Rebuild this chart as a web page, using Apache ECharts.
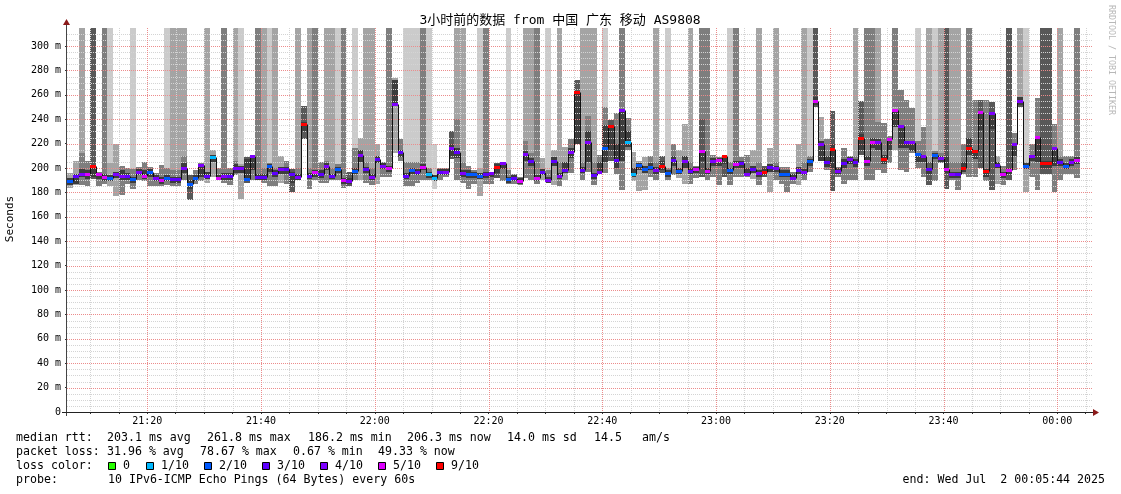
<!DOCTYPE html>
<html><head><meta charset="utf-8">
<script src="https://cdn.jsdelivr.net/npm/echarts@6/dist/echarts.min.js"></script>
<style>html,body{margin:0;padding:0;background:#fff}#c{width:1121px;height:494px}</style>
</head><body><div id="c"></div>
<script>
// ---- data (ms); column i covers minute (firstMinute+i .. +1) after 21:00 ----
const firstMinute = 6;
const medianRtt = [
189,193,195,195,201.5,194.3,192.4,191.8,194.5,193,
193,190.7,196.7,193.4,196,191.8,189.6,191.3,190.4,190.4,
199.7,186.2,191,202,193,209,191.5,193,193,199.5,
199.2,190.2,209.3,192,192,201.6,195.4,198.4,198.4,195,
192.3,235.5,193.4,196,194.8,201.4,192.9,198.6,189.6,189,
197.5,210.6,198.9,192,207,201.1,199.5,251.9,212.6,193.4,
197.8,196.4,200.3,194.3,191.5,196.2,196.7,216.2,213.1,195.1,
194.8,194.8,193.4,194.3,195.6,200.3,203.8,190.4,191.8,189.3,
211,205.5,191.5,196.2,189.9,205.7,193.2,198,212.8,261.8,
198.1,220.5,193.7,196.7,216,233.9,206.3,247.3,220.5,195,
202,198.6,200.3,198.1,201.4,195.1,206,197,205,197.5,
198.4,213.7,197,205.5,205.8,209.3,197.8,202.7,203.3,194.5,
198.4,195.1,196.4,200.3,199.7,195,195,191.8,198,196.7,
205,254.4,219.1,204.6,214.8,197.5,203.8,207.1,204.4,224,
205.5,221.3,221.3,206.6,223,247.5,234,221,221,211.2,
209.3,198.4,210.6,207.9,198.9,194.3,194.3,199.2,216,213.7,
245.9,197,244.8,202.2,194.8,197.8,219,254.4,201.6,209.3,
224.9,203.3,203.3,215.8,204.6,201.6,204.6,206.3];
const lossCount = [
2,3,4,5,9,5,5,2,4,4, 3,2,4,5,2,4,5,2,3,3, 4,2,2,4,3,1,5,4,3,4,
4,2,4,3,3,2,3,4,3,3, 4,9,3,5,3,4,3,2,5,4, 2,4,3,4,3,4,5,4,3,3,
2,3,5,1,1,3,4,4,3,4, 2,2,2,3,4,9,4,2,3,5, 4,3,5,3,4,3,4,3,4,9,
3,4,3,4,2,9,3,4,1,1, 2,2,2,4,9,2,3,2,4,3, 5,5,5,4,5,9,2,5,3,4,
3,4,9,3,4,2,2,4,3,4, 2,5,4,3,9,4,3,4,3,9, 5,5,4,9,5,5,4,3,4,2,
4,3,2,4,5,4,3,9,9,9, 5,9,4,3,5,5,4,4,2,4, 5,9,9,4,3,2,4,5];
const smokeLow = [
184,186,186,185,191,185,187,185,177,178, 187,183,190,189,185,185,185,186,185,185,
190,174,187,189,188,193,190,188,186,194, 175,188,190,190,188,185,185,188,187,180,
190,224,183,190,188,188,190,190,184,185, 190,190,188,186,187,193,193,212,206,185,
185,188,190,190,183,190,193,207,190,188, 183,187,177,187,187,192,189,187,187,186,
192,190,187,190,188,186,185,190,196,220, 190,197,186,195,196,206,195,182,215,189,
181,182,193,190,196,190,194,192,187,187, 192,193,190,193,186,193,186,193,193,193,
191,186,193,180,190,187,180,187,186,190, 197,250,206,198,181.5,193,187,190,190,211,
190,190,198,196,204,215,198,197,212,200, 193,186,189,204,183,190,182,195,193,193,
200,189,182,187,186,190,198,250,180,193, 182,195,195,180,190,195,195,192];
const smokeHigh = [
196,206,212,206,203,197,209,204,220,201.6, 200,199,201,205,200.5,196,202.5,200,198,198,
210,194,198,204,219,215,200,200,200,206, 203,209,211,200,200,204,200,210,206,199,
200,251,200,200,205,206,200,203,196,197, 216,225,205,200,220,205,215,274,224,205,
205,205,205,200,220,200,200,230,240,205, 202,198,200,206,197,204,205,198,195,193,
222,212,200,208,198,215,205,217,224,272, 205,243,205,211,250,239,245,250,241,213,
206,209,210,205,210,200,220,215,236,205, 202,240,205,211,209,211,205,228,209,211,
215,205,202,216,205,201,201,197,220,205, 210,258,241.5,224,247,201,216,210,210,255,
215,230,238,237,226,250,264,256,249,222, 234,205,214,212,242,205,205,220,225,256,
256,256,254,210,202,205,229,258,205,220, 257,215,215,236,210,210,210,212];
// grey level of the part that runs to the top (0 = none)
const tallShade = [
0,0,2,0,4,0,3,1,0,0, 0,1,0,0,0,0,0,1,2,2, 2,0,0,0,2,0,0,3,0,2,
1,0,0,3,2,1,2,0,0,0, 2,0,2,3,0,2,2,1,3,0, 1,0,2,2,0,0,3,0,0,1,
1,1,3,1,0,0,0,0,2,2, 0,0,1,3,0,0,0,1,0,0, 2,2,3,0,1,0,2,0,0,0,
2,2,2,0,1,0,0,3,0,0, 0,0,0,2,0,1,0,0,0,2, 0,3,3,0,0,0,1,3,0,0,
0,2,0,0,2,0,0,0,0,2, 1,4,0,0,0,0,0,0,2,0, 3,3,2,0,0,3,0,0,0,1,
0,2,1,2,4,2,2,0,3,0, 0,0,0,0,0,4,0,2,1,0, 0,4,4,0,2,0,0,3];
const clusterShade = [
2,2,3,3,4,3,3,2,2,3, 3,3,3,3,3,3,3,3,3,3, 3,4,3,3,2,2,3,3,3,3,
2,4,3,3,3,3,3,2,3,4, 3,4,3,3,3,3,3,3,3,4, 3,2,3,3,2,3,3,2,3,3,
3,3,3,3,1,3,3,4,3,3, 3,3,2,3,3,4,3,3,3,3, 3,3,3,2,3,2,3,2,3,4,
3,3,3,3,3,4,3,3,3,2, 2,2,3,3,4,3,3,2,2,3, 3,4,3,3,3,4,3,3,3,3,
2,3,4,2,3,3,3,3,2,3, 3,4,2,3,4,3,3,3,3,4, 3,3,3,3,3,2,3,3,3,3,
3,4,3,3,4,3,3,3,3,3, 4,3,4,2,3,4,3,4,2,3, 3,4,4,3,3,3,3,3];
const coreLow = [
186,187,193,191,193,191,189,189,192,190, 190,188,194,191,193,189,187,189,188,188,
196,183,189,193,191,205,190,190,190,196, 196,189,198,190,190,197,193,195,195,188,
190,230,191,193,192,198,191,196,187,187, 195,205,196,190,204,199,197,252,209,191,
195,194,198,192,189,194,194,210,208,193, 192,192,191,192,193,196,199,188,189,187,
206,202,189,194,188,202,191,196,208,220, 196,205,191,196,205,215,200,206,217,193,
198,196,198,195,198,193,202,195,200,195, 196,206,195,202,202,203,195,200,200,194,
196,193,194,197,197,193,193,190,195,194, 202,252,206,201,200,195,200,203,201,215,
202,216,215,203,215,234,216,216,214,205, 205,195,207,205,196,192,192,197,211,207,
231,193,232,200,192,195,210,252,199,206, 205,200,200,202,202,199,202,203];
const coreHigh = [
192,195,199,198,201,196,195,194,197,198, 196,193,199,198,199,194,193,194,193,193,
204,190,194,203,197,211,194,196,196,203, 202,207,210,195,195,203,198,201,201,197,
195,238,196,198,198,204,195,201,192,192, 200,215,201,195,210,204,202,272,215,196,
200,199,203,197,194,199,199,220,216,198, 198,197,196,197,197,203,205,193,194,192,
214,208,194,199,193,209,196,205,216,261, 201,230,196,205,235,235,220,247,230,200,
204,202,204,201,206,198,210,200,210,200, 201,215,200,208,208,210,200,206,206,200,
202,198,200,203,202,198,198,195,201,199, 207,258,222,210,220,200,207,209,207,228,
210,225,224,211,224,247,234,221,222,212, 210,200,212,210,210,197,197,205,225,215,
245,199,245,205,197,200,220,258,204,211, 225,206,206,216,207,204,207,209];
const xLabelValues = [20,40,60,80,100,120,140,160,180];
const xTickValues = [10,15,20,25,30,35,40,45,50,55,60,65,70,75,80,85,90,95,100,105,110,115,120,125,130,135,140,145,150,155,160,165,170,175,180,185];
const yLabelValues = [0,20,40,60,80,100,120,140,160,180,200,220,240,260,280,300];
const lossLegend = [[0,'0'],[1,'1/10'],[2,'2/10'],[3,'3/10'],[4,'4/10'],[5,'5/10'],[9,'9/10']];

// ---- styling / layout ----
const LOSS_COLOR = {0:'#26ff00',1:'#00b8ff',2:'#0059ff',3:'#5e00ff',4:'#7e00ff',5:'#dd00ff',9:'#ff0000'};
const SHADE = {1:'#cbcbcb',2:'#a4a4a4',3:'#7e7e7e',4:'#585858'};
const CORE = '#3c3c3c';
const GL = 67, GT = 28, GW = 1026, GH = 384;
const X_MIN = 5.88, X_MAX = X_MIN + GW / 5.6875, Y_MAX = GH / 1.22;
const MONO = '"DejaVu Sans Mono","Noto Sans CJK SC",monospace';
const MINOR = '#d4d4d4', MAJOR = '#ec8c8c';

const cols = medianRtt.map((m, i) => [
  i === 0 ? X_MIN : firstMinute + i, firstMinute + i + 1, m, lossCount[i],
  smokeLow[i], smokeHigh[i], tallShade[i], clusterShade[i], coreLow[i], coreHigh[i],
  i > 0 ? medianRtt[i - 1] : m]);

// grid positions (tick values)
const hGrid = [], vGrid = [];
for (let v = 5; v < Y_MAX; v += 5) hGrid.push(v);
for (let t = 10; t < X_MAX; t += 5) vGrid.push(t);

function fmtTime(v) {
  const tot = 21 * 60 + v;
  const h = Math.floor(tot / 60) % 24, m = tot % 60;
  return String(h).padStart(2, '0') + ':' + String(m).padStart(2, '0');
}

function smokeItem(params, api) {
  const cs = params.coordSys;
  const x0 = Math.round(api.coord([api.value(0), 0])[0]);
  const x1 = Math.round(api.coord([api.value(1), 0])[0]);
  const w = x1 - x0;
  const Y = v => Math.round(api.coord([api.value(1), v])[1]);
  const lo = api.value(4), hi = api.value(5), tall = api.value(6), sh = api.value(7);
  const ch = [];
  if (tall > 0) ch.push({type:'rect', shape:{x:x0, y:cs.y, width:w, height:Y(hi) - cs.y}, style:{fill:SHADE[tall]}});
  ch.push({type:'rect', shape:{x:x0, y:Y(hi), width:w, height:Y(lo) - Y(hi)}, style:{fill:SHADE[sh]}});
  const cl = api.value(8), chh = api.value(9);
  ch.push({type:'rect', shape:{x:x0, y:Y(chh), width:w, height:Math.max(1, Y(cl) - Y(chh))}, style:{fill:CORE}});
  return {type:'group', children:ch};
}

function medianItem(params, api) {
  const x0 = Math.round(api.coord([api.value(0), 0])[0]);
  const x1 = Math.round(api.coord([api.value(1), 0])[0]);
  const ym = Math.floor(api.coord([api.value(1), api.value(2)])[1]);
  const yp = Math.floor(api.coord([api.value(1), api.value(10)])[1]);
  return {type:'group', children:[
    {type:'line', shape:{x1:x0 + 0.5, y1:yp + 0.5, x2:x0 + 0.5, y2:ym + 0.5}, style:{stroke:'#111', lineWidth:1}},
    {type:'line', shape:{x1:x0, y1:ym + 0.5, x2:x1, y2:ym + 0.5}, style:{stroke:'#111', lineWidth:1}},
    {type:'rect', shape:{x:x0, y:ym - 1, width:x1 - x0, height:3}, style:{fill:LOSS_COLOR[api.value(3)]}}
  ]};
}

// all grid lines drawn by one custom element group, positions from the axes
function gridItem(params, api) {
  const cs = params.coordSys;
  const minor = [], major = [];
  vGrid.forEach(t => {
    const x = Math.round(api.coord([t, 0])[0]) + 0.5;
    (t % 20 === 0 ? major : minor).push({type:'line', shape:{x1:x, y1:cs.y, x2:x, y2:cs.y + cs.height}});
  });
  hGrid.forEach(v => {
    const y = Math.round(api.coord([X_MIN, v])[1]) + 0.5;
    (v % 20 === 0 ? major : minor).push({type:'line', shape:{x1:cs.x, y1:y, x2:cs.x + cs.width, y2:y}});
  });
  minor.forEach(e => e.style = {stroke:MINOR, lineWidth:1, lineDash:[1,1]});
  major.forEach(e => { e.style = {stroke:MAJOR, lineWidth:1, lineDash:[1,1]}; e.z2 = 5; });
  return {type:'group', children: minor.concat(major)};
}

const txt = (x, y, s, opt = {}) => ({type:'text', x, y, silent:true, rotation: opt.rot || 0,
  style:{text:s, font:(opt.size || 11.6) + 'px ' + MONO, fill:opt.fill || '#000',
    textAlign:opt.align || 'left', align:opt.align || 'left', textVerticalAlign:'middle', verticalAlign:'middle'}});

const graphics = [
  {type:'line', z:100, shape:{x1:66.5, y1:24, x2:66.5, y2:416}, style:{stroke:'#444', lineWidth:1}},
  {type:'line', z:100, shape:{x1:62, y1:412.5, x2:1094, y2:412.5}, style:{stroke:'#222', lineWidth:1}},
  {type:'polygon', z:100, shape:{points:[[63,25],[70,25],[66.5,19]]}, style:{fill:'#8b1a1a'}},
  {type:'polygon', z:100, shape:{points:[[1093,409],[1093,416],[1099,412.5]]}, style:{fill:'#8b1a1a'}},
  txt(560, 21, '3小时前的数据 from 中国 广东 移动 AS9808', {size:13, align:'center'}),
  txt(10, 219, 'Seconds', {size:11, align:'center', rot:Math.PI / 2}),
  txt(1111, 60, 'RRDTOOL / TOBI OETIKER', {size:8.3, align:'center', rot:-Math.PI / 2, fill:'#b8b8b8'}),
  txt(16, 438, 'median rtt:'), txt(107, 438, '203.1 ms avg'), txt(207, 438, '261.8 ms max'),
  txt(308, 438, '186.2 ms min'), txt(407, 438, '206.3 ms now'), txt(507, 438, '14.0 ms sd'),
  txt(594, 438, '14.5'), txt(642, 438, 'am/s'),
  txt(16, 452, 'packet loss:'), txt(107, 452, '31.96 % avg'), txt(200, 452, '78.67 % max'),
  txt(293, 452, '0.67 % min'), txt(378, 452, '49.33 % now'),
  txt(16, 466, 'loss color:'),
  txt(16, 480, 'probe:'), txt(108, 480, '10 IPv6-ICMP Echo Pings (64 Bytes) every 60s'),
  txt(1105, 480, 'end: Wed Jul  2 00:05:44 2025', {align:'right'})
];
const boxX = [108, 146, 204, 262, 320, 378, 436];
lossLegend.forEach(([k, label], j) => {
  graphics.push({type:'rect', shape:{x:boxX[j] + 0.5, y:462.5, width:7, height:7}, style:{fill:LOSS_COLOR[k], stroke:'#000', lineWidth:1}});
  graphics.push(txt(boxX[j] + 15, 466, label));
});

const chart = echarts.init(document.getElementById('c'), null, {renderer:'canvas'});
chart.setOption({
  animation:false,
  backgroundColor:'#ffffff',
  grid:{left:GL, top:GT, width:GW, height:GH, containLabel:false},
  xAxis:{type:'value', min:X_MIN, max:X_MAX, axisLine:{show:false}, splitLine:{show:false},
    axisTick:{show:true, customValues:xTickValues, length:2, lineStyle:{color:'#333'}},
    axisLabel:{customValues:xLabelValues, formatter:fmtTime, margin:4, color:'#000', fontSize:10, fontFamily:MONO}},
  yAxis:{type:'value', min:0, max:Y_MAX, axisLine:{show:false}, splitLine:{show:false},
    axisTick:{show:true, customValues:yLabelValues, length:2, lineStyle:{color:'#333'}},
    axisLabel:{customValues:yLabelValues, formatter:v => v === 0 ? '0' : v + ' m', margin:6, color:'#000', fontSize:10, fontFamily:MONO}},
  series:[
    {type:'custom', name:'smoke', z:1, clip:true, renderItem:smokeItem, data:cols, encode:{x:[0,1], y:[4,5]}},
    {type:'custom', name:'grid', z:2, clip:true, silent:true, renderItem:gridItem, data:[[X_MIN, 0]]},
    {type:'custom', name:'median', z:4, clip:true, renderItem:medianItem, data:cols, encode:{x:[0,1], y:2}}
  ],
  graphic:graphics
});
</script></body></html>
